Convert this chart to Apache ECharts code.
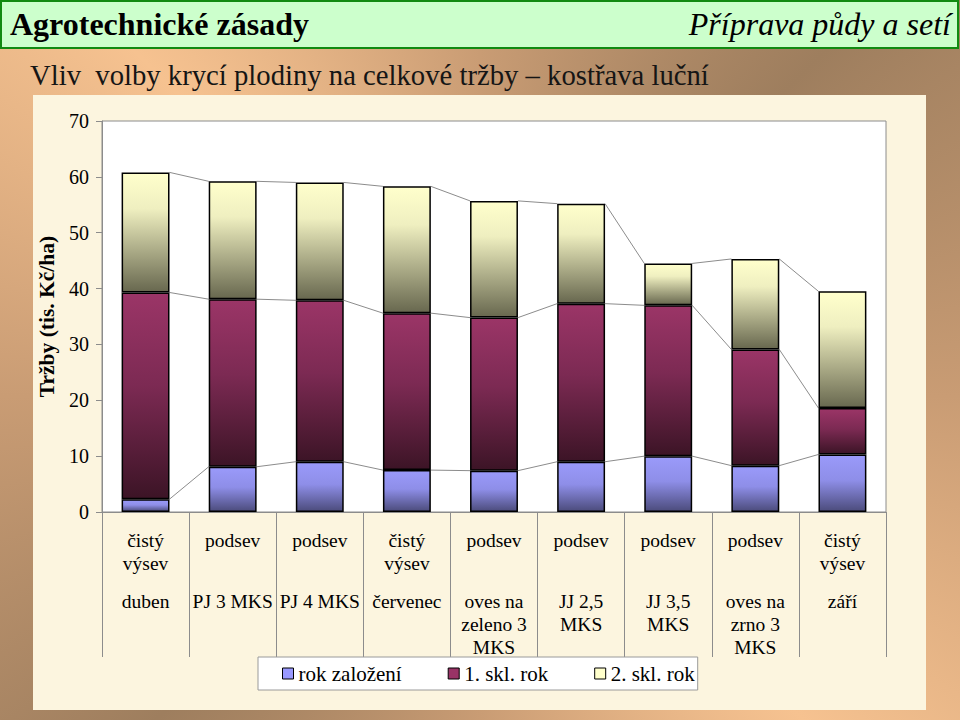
<!DOCTYPE html>
<html>
<head>
<meta charset="utf-8">
<script src="https://cdn.jsdelivr.net/npm/echarts@6/dist/echarts.min.js"></script>
<style>
html,body{margin:0;padding:0;}
#main{width:960px;height:720px;
background:conic-gradient(from 0deg at 50% 55%, #c99c74 0deg, #9e7e5e 45deg, #c99c74 90deg, #f6c290 135deg, #c99c74 180deg, #9e7e5e 225deg, #c99c74 270deg, #f6c290 315deg, #c99c74 360deg);}
</style>
</head>
<body>
<div id="main"></div>
<script>
// ---- data ----
const labelRow1 = ['čistý\nvýsev','podsev','podsev','čistý\nvýsev','podsev','podsev','podsev','podsev','čistý\nvýsev'];
const labelRow2 = ['duben','PJ 3 MKS','PJ 4 MKS','červenec','oves na\nzeleno 3\nMKS','JJ 2,5\nMKS','JJ 3,5\nMKS','oves na\nzrno 3\nMKS','září'];
const seriesNames = ['rok založení','1. skl. rok','2. skl. rok'];
const rokZalozeni = [2.3, 8.1, 9.0, 7.5, 7.4, 9.0, 10.0, 8.3, 10.3];
const sklRok1     = [37.0, 30.0, 28.9, 28.1, 27.4, 28.3, 27.0, 20.8, 8.3];
const sklRok2     = [21.5, 21.1, 21.1, 22.7, 20.9, 17.9, 7.5, 16.2, 20.9];
const yTicks = {min:0, max:70, interval:10};

const FONT = "'Liberation Serif','Times New Roman',serif";
const BAR_RATIO = 0.55;

const chart = echarts.init(document.getElementById('main'), null, {renderer:'svg'});

const grad = (stops) => new echarts.graphic.LinearGradient(0,0,0,1, stops.map((c,i)=>({offset:c[0], color:c[1]})));
const fills = [
  grad([[0,'#9a9afa'],[0.45,'#8e8ee8'],[1,'#4c4c7c']]),
  grad([[0,'#9b3567'],[0.45,'#7c2a53'],[1,'#3c1426']]),
  grad([[0,'#ffffcc'],[0.3,'#efefc0'],[1,'#68684f']])
];
const legendColors = ['#9999ff','#993366','#ffffcc'];
const values = [rokZalozeni, sklRok1, sklRok2];

// cumulative tops for series lines
const cum = [];
let run = rokZalozeni.map(()=>0);
values.forEach(v => { run = run.map((r,i)=>r+v[i]); cum.push(run.slice()); });
const lineData = [];
cum.forEach(c => { for (let i=0;i<c.length-1;i++) lineData.push([i, c[i], c[i+1]]); });

const barSeries = values.map((v,k)=>({
  name: seriesNames[k], type:'bar', stack:'total', data:v, barWidth: (BAR_RATIO*100)+'%',
  itemStyle:{color:fills[k], borderColor:'#000', borderWidth:1.5},
  emphasis:{disabled:true}, z:3
}));

const option = {
  animation:false,
  graphic:[
    {type:'rect', z:-20, shape:{x:33,y:95,width:893,height:615}, style:{fill:'#fcf5df'}},
    {type:'rect', z:-10, shape:{x:1,y:1,width:957,height:47}, style:{fill:'#ccffcc', stroke:'#118a11', lineWidth:2}},
    {type:'text', z:-5, left:10, top:8, style:{text:'Agrotechnické zásady', font:'bold 32px '+FONT, fill:'#000'}},
    {type:'text', z:-5, right:9, top:8, style:{text:'Příprava půdy a setí', font:'italic 32px '+FONT, fill:'#000'}},
    {type:'text', z:-5, left:30, top:60, style:{text:'Vliv  volby krycí plodiny na celkové tržby – kostřava luční', font:'28.7px '+FONT, fill:'#151515'}}
  ],
  grid:{left:102, right:74, top:121, bottom:208, show:true, backgroundColor:'#ffffff', borderColor:'#8c8c8c', borderWidth:1},
  legend:{
    left:258, top:657, padding:[6,3,6,24], itemGap:46, itemWidth:11, itemHeight:11, icon:'rect',
    backgroundColor:'#ffffff', borderColor:'#9a9a9a', borderWidth:1,
    textStyle:{fontFamily:FONT, fontSize:21, color:'#000'},
    data: seriesNames.map((n,k)=>({name:n, itemStyle:{color:legendColors[k], borderColor:'#000', borderWidth:1}})),
    selectedMode:false
  },
  xAxis:[
    {type:'category', data:labelRow1, gridIndex:0, position:'bottom',
     axisLine:{lineStyle:{color:'#8c8c8c'}},
     axisTick:{show:true, length:145, lineStyle:{color:'#8c8c8c'}},
     axisLabel:{interval:0, margin:17, fontFamily:FONT, fontSize:19.5, color:'#000', lineHeight:23, verticalAlign:'top'}},
    {type:'category', data:labelRow2, gridIndex:0, position:'bottom', offset:0,
     axisLine:{show:false}, axisTick:{show:false},
     axisLabel:{interval:0, margin:78, fontFamily:FONT, fontSize:19.5, color:'#000', lineHeight:23, verticalAlign:'top'}}
  ],
  yAxis:{type:'value', min:yTicks.min, max:yTicks.max, interval:yTicks.interval,
    name:'Tržby (tis. Kč/ha)', nameLocation:'middle', nameGap:35, nameRotate:90,
    nameTextStyle:{fontFamily:FONT, fontSize:21.5, fontWeight:'bold', color:'#000'},
    axisLine:{show:true, lineStyle:{color:'#8c8c8c'}},
    axisTick:{show:true, length:6, lineStyle:{color:'#8c8c8c'}},
    splitLine:{show:false},
    axisLabel:{margin:13, fontFamily:FONT, fontSize:20, color:'#000'}},
  series: barSeries.concat([{
    type:'custom', xAxisIndex:0, yAxisIndex:0, silent:true, z:2,
    data: lineData,
    encode:{x:0, y:[1,2]},
    renderItem:function(params, api){
      const i = api.value(0);
      const p0 = api.coord([i, api.value(1)]);
      const p1 = api.coord([i+1, api.value(2)]);
      const hw = api.size([1,0])[0]*BAR_RATIO/2;
      return {type:'line', shape:{x1:p0[0]+hw, y1:p0[1], x2:p1[0]-hw, y2:p1[1]}, style:{stroke:'#8c8c8c', lineWidth:1}};
    }
  }])
};
chart.setOption(option);
</script>
</body>
</html>
